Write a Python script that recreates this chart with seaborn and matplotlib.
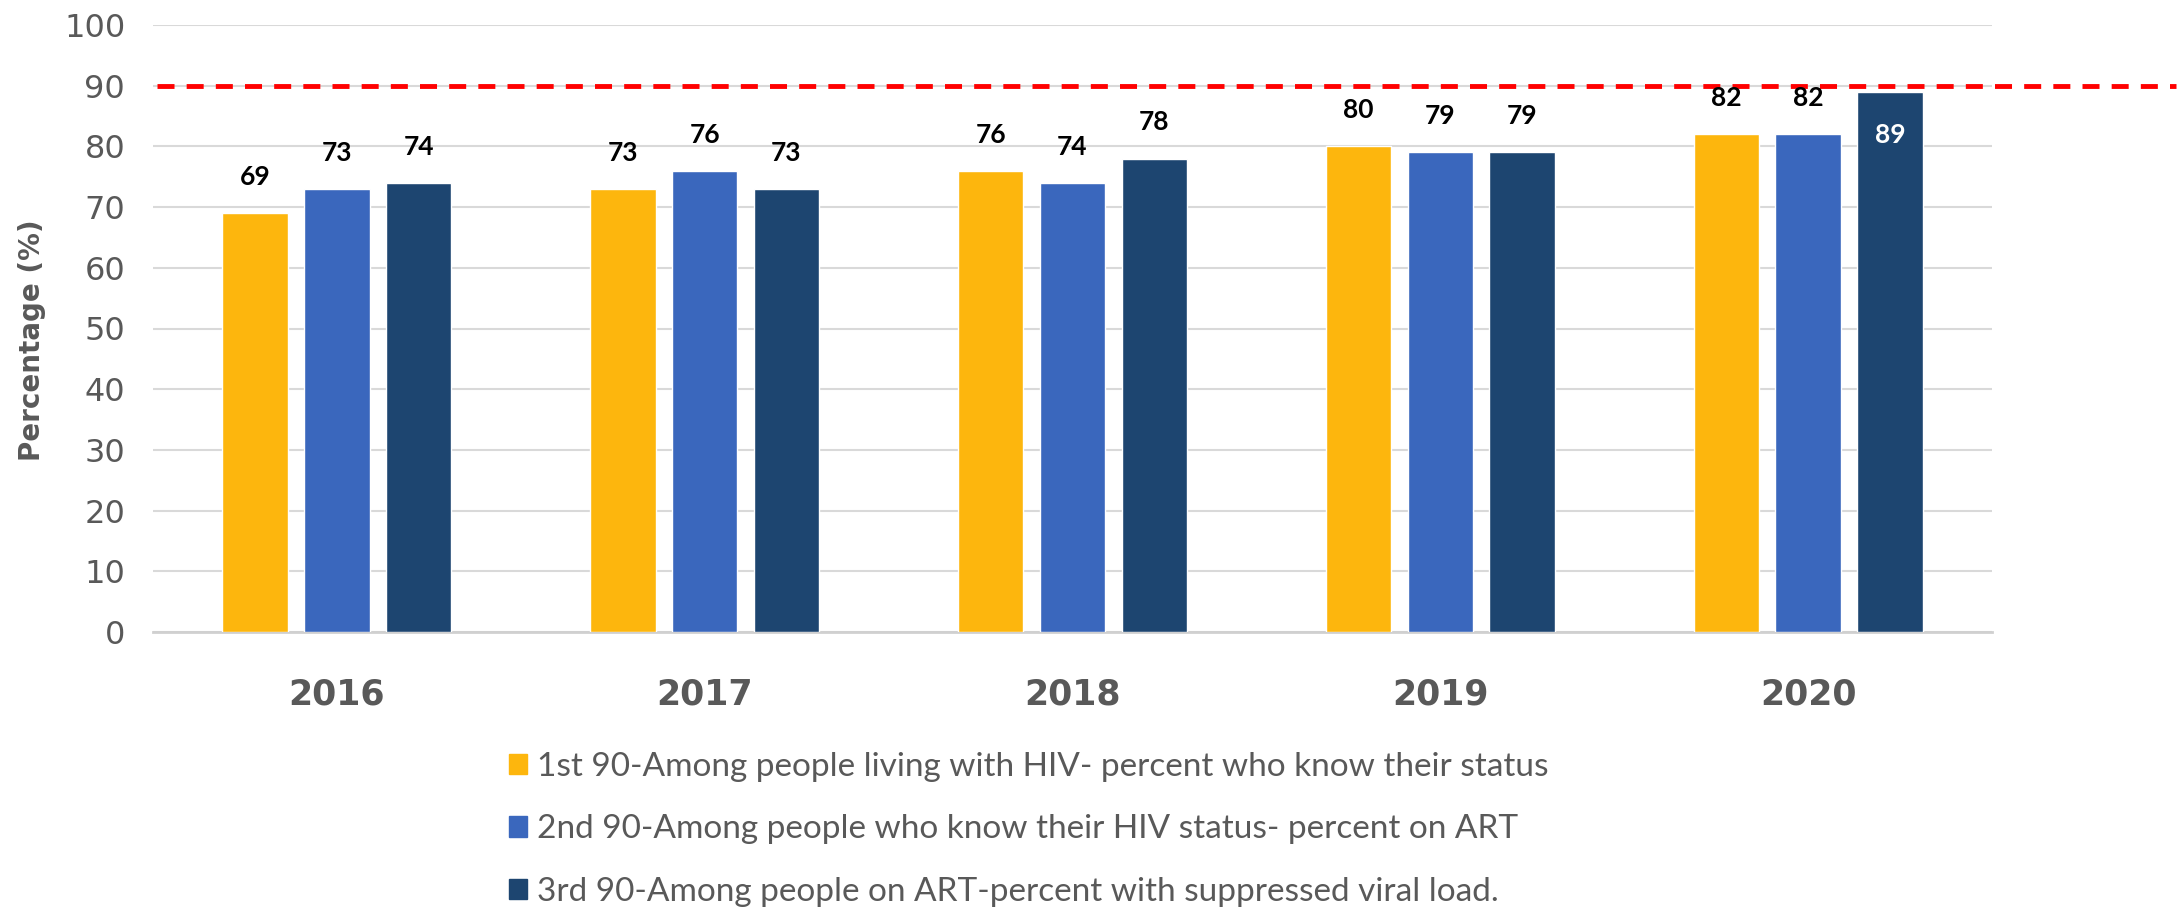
import pandas as pd
import matplotlib
matplotlib.use("Agg")
import matplotlib.pyplot as plt
from matplotlib.patches import Rectangle
import seaborn as sns

# data
years = ['2016', '2017', '2018', '2019', '2020']
series = ['1st 90-Among people living with HIV- percent who know their status',
          '2nd 90-Among people who know their HIV status- percent on ART',
          '3rd 90-Among people on ART-percent with suppressed viral load.']
first_90 = [69, 73, 76, 80, 82]
second_90 = [73, 76, 74, 79, 82]
third_90 = [74, 73, 78, 79, 89]
target = 90
colors = ['#FDB60D', '#3A67BD', '#1D4570']

df = pd.DataFrame({
    'year': years * 3,
    'value': first_90 + second_90 + third_90,
    'series': [series[0]] * 5 + [series[1]] * 5 + [series[2]] * 5,
})

sns.set_style("white")
plt.rcParams['font.family'] = ['DejaVu Sans']
gray = '#595959'

fig = plt.figure(figsize=(21.77, 9.09), dpi=100)
ax = fig.add_axes([153 / 2177, 1 - 632 / 909, (1992 - 153) / 2177, (632 - 25) / 909])

sns.barplot(data=df, x='year', y='value', hue='series', palette=colors,
            width=0.667, gap=0.2, saturation=1, legend=False, ax=ax, zorder=3)

ax.set_ylim(0, 100)
ax.set_xlim(-0.5, 4.5)
ax.set_yticks(range(0, 101, 10))
ax.grid(axis='y', color='#D9D9D9', linewidth=1.5, zorder=0)
for s in ['top', 'right', 'left']:
    ax.spines[s].set_visible(False)
ax.spines['bottom'].set_color('#D0D0D0')
ax.spines['bottom'].set_linewidth(2)
ax.tick_params(axis='y', length=0, labelsize=23, labelcolor=gray, pad=20)
ax.tick_params(axis='x', length=0, pad=33)
for t in ax.get_xticklabels():
    t.set_fontsize(25)
    t.set_fontweight('bold')
    t.set_color(gray)
ax.set_xlabel('')
ax.set_ylabel('Percentage (%)', fontsize=20, fontweight='bold', color=gray)
ax.yaxis.set_label_coords(-0.058, 0.48)

# target line, runs past the plot area to the right edge
ax.plot([0.002, 1.1], [target, target], transform=ax.get_yaxis_transform(),
        color='#FF0000', linewidth=3.5, dashes=(3.5, 2.5), clip_on=False, zorder=4)

# value labels
for cont in ax.containers:
    for bar in cont:
        h = bar.get_height()
        x = bar.get_x() + bar.get_width() / 2
        if h >= 85:
            ax.annotate(f'{h:.0f}', (x, h), xytext=(0, -31), textcoords='offset points',
                        ha='center', va='center', fontsize=19, fontweight='bold',
                        family='Lato', color='white', zorder=5)
        else:
            ax.annotate(f'{h:.0f}', (x, h), xytext=(0, 26), textcoords='offset points',
                        ha='center', va='center', fontsize=19, fontweight='bold',
                        family='Lato', color='black', zorder=5)

handles = [Rectangle((0, 0), 1, 1, color=c) for c in colors]
leg = fig.legend(handles, series, loc='upper left', bbox_to_anchor=(509 / 2177, 1 - 752 / 909),
                 frameon=False, prop={'family': 'Lato', 'size': 24}, labelcolor=gray,
                 handlelength=0.55, handleheight=0.55, handletextpad=0.3,
                 labelspacing=0.97, borderpad=0, borderaxespad=0)

fig.savefig('out.png', dpi=100)
